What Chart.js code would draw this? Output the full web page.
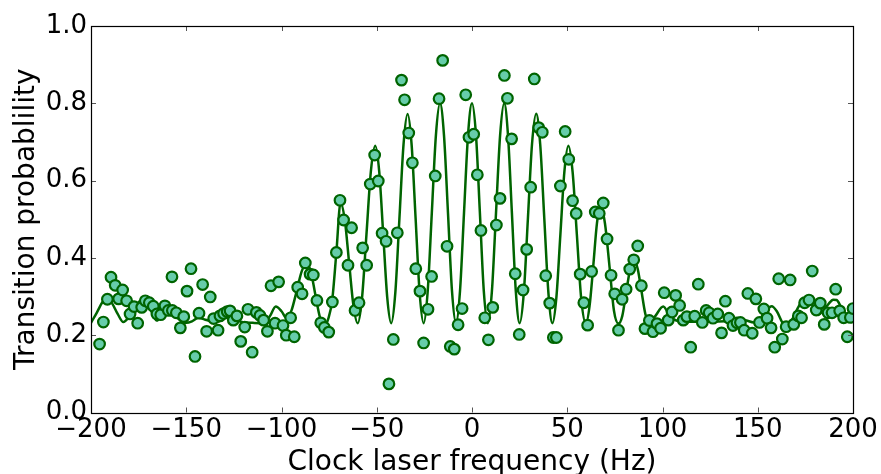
<!DOCTYPE html>
<html><head><meta charset="utf-8">
<script src="https://cdn.jsdelivr.net/npm/chart.js@4.4.1/dist/chart.umd.min.js"></script>
<style>html,body{margin:0;padding:0;background:#fff;}#wrap{width:881px;height:474px;position:relative;}</style>
</head><body><div id="wrap"><canvas id="c" width="881" height="474"></canvas></div>
<script>
const xTicks = [-200, -150, -100, -50, 0, 50, 100, 150, 200];
const yTicks = [0, 0.2, 0.4, 0.6, 0.8, 1.0];

const pointX = [-195.5,-193.5,-191.4,-189.5,-187.3,-185.5,-183.4,-181.3,-179.5,-177.4,-175.5,-173.4,-171.5,-169.4,-167.3,-165.4,-163.4,-161.2,-159.4,-157.5,-157.3,-155.2,-153.1,-151.3,-149.6,-147.5,-145.4,-143.3,-141.4,-139.3,-137.4,-135.6,-133.3,-132.3,-130.4,-128.5,-127.0,-125.3,-123.4,-121.4,-119.3,-117.6,-115.4,-113.2,-111.3,-109.4,-107.4,-105.5,-103.4,-101.5,-99.2,-97.5,-95.2,-93.3,-91.5,-89.2,-87.5,-85.0,-83.3,-81.4,-79.4,-77.5,-75.2,-73.3,-71.2,-69.3,-67.4,-65.1,-63.2,-61.4,-59.3,-57.4,-55.3,-53.4,-51.1,-49.2,-47.2,-45.1,-43.6,-41.3,-39.2,-37.0,-35.4,-33.2,-31.3,-29.5,-27.3,-25.4,-23.1,-21.2,-19.3,-17.3,-15.4,-13.1,-11.4,-9.3,-7.3,-5.2,-3.3,-1.6,0.9,2.8,4.7,6.7,8.6,10.9,12.8,14.7,17.0,18.6,20.8,22.7,24.8,26.8,28.7,30.8,32.7,35.0,36.9,38.7,40.8,42.7,44.3,46.4,48.9,50.8,52.8,54.7,56.8,58.7,60.7,62.8,64.7,66.8,68.9,70.9,73.0,74.9,76.9,78.8,80.9,82.8,84.9,87.0,88.9,90.8,93.1,95.0,97.1,99.0,100.9,103.0,105.0,106.9,109.0,110.9,112.8,114.8,116.9,118.8,120.9,122.9,124.5,126.5,129.0,131.0,133.0,134.9,137.0,139.1,140.9,142.9,144.8,147.1,149.0,150.9,153.2,154.9,157.0,158.9,161.0,162.9,164.9,167.0,168.9,171.3,173.0,174.6,176.9,178.6,180.7,182.8,184.9,186.9,189.0,190.9,193.0,195.1,197.0,198.6,200.0];
const pointY = [0.177,0.234,0.293,0.350,0.329,0.294,0.317,0.289,0.255,0.274,0.231,0.272,0.289,0.284,0.275,0.255,0.253,0.276,0.264,0.351,0.264,0.258,0.219,0.248,0.314,0.372,0.145,0.257,0.331,0.210,0.299,0.243,0.213,0.250,0.256,0.261,0.263,0.239,0.250,0.184,0.221,0.267,0.156,0.259,0.251,0.239,0.210,0.328,0.231,0.338,0.225,0.200,0.245,0.196,0.324,0.307,0.387,0.358,0.356,0.290,0.232,0.220,0.208,0.286,0.414,0.549,0.498,0.381,0.478,0.264,0.284,0.426,0.381,0.591,0.666,0.599,0.464,0.443,0.074,0.189,0.465,0.860,0.809,0.723,0.646,0.372,0.314,0.180,0.267,0.352,0.612,0.812,0.911,0.430,0.171,0.164,0.227,0.269,0.822,0.712,0.720,0.615,0.471,0.245,0.188,0.272,0.485,0.554,0.872,0.813,0.708,0.359,0.202,0.317,0.422,0.583,0.863,0.737,0.725,0.354,0.283,0.194,0.194,0.586,0.727,0.655,0.548,0.515,0.358,0.284,0.226,0.365,0.519,0.515,0.542,0.449,0.355,0.307,0.213,0.293,0.319,0.371,0.395,0.431,0.328,0.217,0.238,0.209,0.230,0.218,0.310,0.239,0.260,0.303,0.277,0.239,0.248,0.169,0.249,0.332,0.233,0.264,0.258,0.244,0.255,0.206,0.288,0.244,0.225,0.232,0.233,0.213,0.308,0.205,0.294,0.233,0.268,0.244,0.219,0.169,0.346,0.190,0.222,0.343,0.228,0.250,0.245,0.284,0.291,0.366,0.265,0.283,0.228,0.258,0.258,0.319,0.263,0.245,0.196,0.246,0.269];

const curveX = [-200,-197,-194,-191.5,-189,-186,-183,-180,-177,-174.5,-172.5,-170,-167.5,-165.5,-163,-160.3,-157.5,-154,-150,-147,-143.7,-140,-135,-131,-127.5,-124.5,-121.5,-115,-108.7,-106,-103,-100,-97.3,-94.7,-92.0,-89.4,-86.8,-84.5,-82.2,-79.8,-77.3,-75.3,-73.4,-71.2,-69.0,-66.75,-64.5,-62.25,-60.0,-57.7,-55.4,-53.1,-50.8,-48.7,-46.6,-44.5,-42.4,-40.25,-38.1,-35.95,-33.8,-31.7,-29.6,-27.5,-25.4,-23.25,-21.1,-18.95,-16.8,-14.7,-12.6,-10.5,-8.4,-6.3,-4.2,-2.1,0,2.1,4.15,6.2,8.3,10.45,12.6,14.75,16.9,18.9,20.95,23.0,25.0,27.2,29.35,31.5,33.7,35.8,37.95,40.1,42.2,44.3,46.4,48.5,50.6,52.8,55.05,57.3,59.8,61.7,63.7,65.6,67.5,69.8,72.2,74.5,76.9,78.9,80.9,82.95,85.0,87.0,89.0,91.0,93.0,96.0,100.4,104.0,108.0,115,125,133,137,140.7,144,148,150.3,153,155.5,157.3,160,163,165.2,168,171,173.5,175.7,178,180,181.8,184,187,189.6,191.4,193.5,196.6,198.5,200];
const curveY = [0.232,0.258,0.285,0.295,0.283,0.255,0.234,0.248,0.272,0.288,0.291,0.280,0.255,0.238,0.250,0.268,0.262,0.242,0.232,0.236,0.245,0.240,0.234,0.240,0.258,0.245,0.235,0.232,0.231,0.250,0.274,0.262,0.244,0.265,0.315,0.365,0.386,0.362,0.304,0.246,0.225,0.245,0.290,0.414,0.543,0.497,0.387,0.277,0.231,0.298,0.461,0.623,0.690,0.623,0.461,0.298,0.231,0.310,0.502,0.693,0.772,0.693,0.502,0.310,0.231,0.314,0.516,0.717,0.800,0.717,0.516,0.314,0.231,0.314,0.516,0.717,0.800,0.717,0.516,0.314,0.231,0.314,0.516,0.717,0.800,0.717,0.516,0.314,0.231,0.310,0.502,0.694,0.773,0.694,0.502,0.310,0.231,0.298,0.461,0.623,0.690,0.623,0.460,0.296,0.230,0.275,0.382,0.490,0.535,0.489,0.377,0.264,0.230,0.250,0.310,0.369,0.395,0.371,0.313,0.255,0.231,0.248,0.274,0.248,0.237,0.235,0.235,0.236,0.238,0.242,0.238,0.233,0.236,0.255,0.270,0.275,0.262,0.232,0.222,0.240,0.270,0.290,0.295,0.285,0.266,0.252,0.262,0.280,0.292,0.291,0.275,0.246,0.255,0.270];

const FONT = 'DejaVu Sans';

const framePlugin = {
  id: 'frame',
  afterDraw(chart) {
    const {ctx, chartArea: a, scales} = chart;
    ctx.save();
    ctx.strokeStyle = '#555';
    ctx.lineWidth = 1;
    const L = 5;
    ctx.beginPath();
    xTicks.forEach(v => {
      const px = Math.round(scales.x.getPixelForValue(v)) + 0.5;
      ctx.moveTo(px, a.bottom); ctx.lineTo(px, a.bottom - L);
      ctx.moveTo(px, a.top); ctx.lineTo(px, a.top + L);
    });
    yTicks.forEach(v => {
      const py = Math.round(scales.y.getPixelForValue(v)) + 0.5;
      ctx.moveTo(a.left, py); ctx.lineTo(a.left + L, py);
      ctx.moveTo(a.right, py); ctx.lineTo(a.right - L, py);
    });
    ctx.stroke();
    ctx.strokeStyle = '#000';
    ctx.lineWidth = 1.2;
    ctx.strokeRect(Math.round(a.left) + 0.5, Math.round(a.top) + 0.5, Math.round(a.right - a.left), Math.round(a.bottom - a.top));
    ctx.restore();
  }
};

new Chart(document.getElementById('c'), {
  type: 'scatter',
  data: {
    datasets: [
      {
        label: 'measurements',
        data: pointX.map((x, i) => ({x: x, y: pointY[i]})),
        showLine: false,
        pointRadius: 5.3,
        pointBorderWidth: 2.2,
        pointBackgroundColor: '#66cdaa',
        pointBorderColor: '#006400',
        order: 0,
        clip: 0
      },
      {
        label: 'fit',
        data: curveX.map((x, i) => ({x: x, y: curveY[i]})),
        showLine: true,
        pointRadius: 0,
        borderColor: '#006400',
        borderWidth: 2.5,
        cubicInterpolationMode: 'monotone',
        fill: false,
        order: 1,
        clip: 0
      }
    ]
  },
  options: {
    responsive: false,
    devicePixelRatio: 1,
    animation: false,
    layout: {padding: {top: 26, right: 28, bottom: 0, left: 0}},
    plugins: {legend: {display: false}, tooltip: {enabled: false}},
    scales: {
      x: {
        type: 'linear', min: -200, max: 200,
        afterBuildTicks: s => { s.ticks = xTicks.map(v => ({value: v})); },
        afterFit: s => { s.height = 61.5; },
        grid: {display: false, drawTicks: false},
        border: {display: false},
        ticks: {
          font: {family: FONT, size: 26}, color: '#000', padding: 2, maxRotation: 0, autoSkip: false,
          callback: v => (v < 0 ? '\u2212' + Math.abs(v) : String(v))
        },
        title: {display: true, text: 'Clock laser frequency (Hz)', color: '#000',
          font: {family: FONT, size: 28, lineHeight: 1}, padding: {top: 0, bottom: -3}}
      },
      y: {
        type: 'linear', min: 0, max: 1,
        afterBuildTicks: s => { s.ticks = yTicks.map(v => ({value: v})); },
        afterFit: s => { s.width = 91; },
        grid: {display: false, drawTicks: false},
        border: {display: false},
        ticks: {font: {family: FONT, size: 26}, color: '#000', padding: 4, callback: v => Number(v).toFixed(1)},
        title: {display: true, text: 'Transition probablility', color: '#000',
          font: {family: FONT, size: 28, lineHeight: 1}, padding: {top: 13, bottom: 0}}
      }
    }
  },
  plugins: [framePlugin]
});
</script>
</body></html>
